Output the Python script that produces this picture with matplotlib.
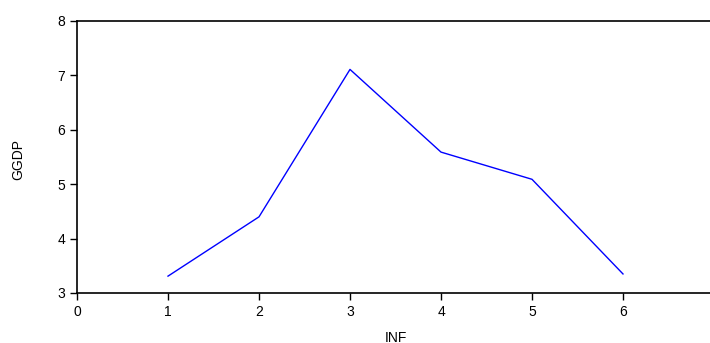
import matplotlib.pyplot as plt

# INF vs GGDP
inf = [1, 2, 3, 4, 5, 6]
ggdp = [3.31, 4.40, 7.11, 5.59, 5.09, 3.35]

plt.rcParams['font.family'] = 'Liberation Sans'

fig = plt.figure(figsize=(7.1, 3.43), dpi=100)
# axis runs a little past the right edge of the picture, as in the original
ax = fig.add_axes([77/710, 50/343, 637/710, 272/343])
ax.plot(inf, ggdp, color='blue', linewidth=1)

ax.set_xlim(0, 7)
ax.set_ylim(3, 8)
ax.set_xticks(range(0, 8))
ax.set_yticks(range(3, 9))
ax.tick_params(direction='out', length=5, width=1, labelsize=10, colors='black')
ax.spines['right'].set_visible(False)
for s in ['left', 'top', 'bottom']:
    ax.spines[s].set_linewidth(1.2)

fig.text(396/710, 1 - 338/343, 'INF', ha='center', va='center', fontsize=10)
fig.text(18/710, 1 - 160/343, 'GGDP', ha='center', va='center', rotation=90, fontsize=10)

fig.savefig('out.png', dpi=100)
